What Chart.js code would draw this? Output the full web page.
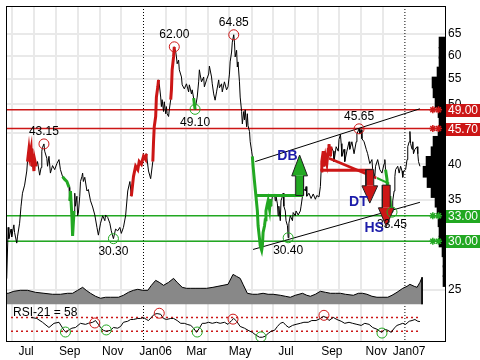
<!DOCTYPE html>
<html><head><meta charset="utf-8">
<script src="https://cdn.jsdelivr.net/npm/chart.js@4"></script>
<style>html,body{margin:0;padding:0;background:#fff}canvas{display:block}</style>
</head><body>
<canvas id="c" width="480" height="360"></canvas>
<script>
// ---------- DATA (x = days since 1 Jul 2005) ----------
const priceSeries = [
[-7,26.1],[-5,31.6],[-4,30.3],[-1,31.4],[0,30.5],[3,31.9],[4,31.0],[7,29.8],[8,30.5],[11,32.1],
[13,34.2],[15,35.9],[18,37.0],[21,39.0],[22,40.4],[24,42.3],[25,41.2],[27,42.4],[28,39.7],[29,41.6],
[31,39.0],[32,40.7],[34,39.7],[36,40.4],[39,38.4],[41,39.5],[42,42.0],[43,42.6],[45,43.15],[46,42.0],
[49,40.9],[50,39.7],[52,41.2],[54,38.7],[57,39.8],[60,39.2],[63,40.1],[66,40.7],[68,39.2],[71,38.2],
[74,37.8],[77,37.5],[80,36.7],[81,34.9],[82,36.2],[84,33.0],[85,30.6],[87,33.6],[88,35.9],[89,34.2],
[91,35.5],[92,33.0],[93,33.3],[95,35.5],[96,37.5],[98,38.2],[99,38.7],[100,37.5],[102,38.1],[105,36.2],
[107,36.4],[110,34.9],[113,34.1],[116,33.1],[119,31.6],[121,30.7],[124,32.1],[127,33.0],[130,32.4],[131,33.1],
[134,32.8],[137,32.1],[139,31.2],[142,30.3],[145,31.4],[148,31.2],[151,31.6],[153,30.9],[156,31.6],[159,33.0],
[162,36.2],[165,37.5],[167,35.5],[170,38.2],[173,39.7],[176,39.2],[178,40.4],[181,40.0],[184,41.2],[187,40.7],
[188,41.6],[191,39.0],[194,37.9],[197,40.4],[198,43.5],[199,46.0],[201,47.8],[202,51.4],[204,53.4],[205,54.8],
[206,54.0],[208,51.4],[209,49.6],[210,50.9],[212,48.7],[213,50.5],[215,48.3],[216,49.6],[217,48.3],[219,47.8],
[220,49.0],[222,50.9],[223,52.8],[224,56.9],[226,59.7],[227,62.0],[229,60.8],[230,59.7],[231,58.2],[233,59.0],
[234,56.9],[237,55.4],[238,53.8],[241,53.0],[244,54.0],[247,52.4],[248,53.8],[251,52.0],[252,52.8],[254,51.2],
[256,49.1],[259,51.4],[261,54.4],[262,56.9],[263,56.0],[265,54.4],[268,55.4],[269,53.4],[272,54.8],[275,56.0],
[276,57.7],[279,55.4],[280,54.0],[282,52.0],[284,50.8],[286,52.4],[289,54.8],[290,53.2],[293,54.0],[294,52.4],
[297,54.4],[300,52.8],[302,53.4],[304,56.0],[305,58.6],[307,60.8],[308,63.1],[310,64.85],[311,63.1],[312,59.7],
[314,61.2],[315,57.5],[316,58.6],[318,54.4],[319,51.4],[321,48.7],[322,46.5],[324,48.7],[325,47.2],[326,49.0],
[328,46.0],[329,48.3],[330,46.2],[332,45.2],[333,43.5],[335,42.0],[336,41.2],[337,39.7],[339,37.5],[341,35.5],
[343,33.6],[344,31.8],[346,30.3],[347,29.5],[349,29.0],[350,29.5],[351,31.0],[353,31.8],[354,32.5],[355,33.6],
[357,34.5],[358,34.9],[360,33.8],[361,35.1],[362,34.2],[364,35.5],[367,35.8],[368,34.9],[369,35.5],[371,34.5],
[372,33.0],[373,34.2],[375,32.4],[376,34.9],[378,35.5],[379,35.9],[380,34.2],[382,33.6],[383,32.4],[385,31.8],
[386,30.4],[387,32.1],[389,33.0],[392,32.4],[393,33.4],[396,33.0],[397,33.6],[400,33.1],[403,33.6],[404,34.2],
[406,35.5],[407,36.6],[410,36.2],[411,36.8],[412,35.5],[415,35.9],[418,35.2],[421,35.8],[424,35.1],[426,35.6],
[429,35.4],[431,36.8],[432,39.0],[433,40.4],[435,42.0],[436,39.7],[438,41.2],[440,40.1],[442,42.3],[443,43.1],
[445,41.2],[446,42.7],[449,42.0],[450,40.4],[453,42.7],[456,42.0],[457,43.9],[459,44.7],[460,43.2],[461,41.2],
[464,42.3],[465,40.4],[468,42.0],[471,43.5],[472,42.3],[475,43.5],[478,41.6],[481,43.5],[482,44.8],[485,45.65],
[486,44.8],[488,45.5],[489,44.0],[492,43.5],[495,42.3],[497,41.6],[500,40.1],[503,40.7],[504,39.2],[507,38.2],
[508,39.7],[511,40.7],[514,39.2],[517,38.7],[520,40.1],[521,40.7],[522,39.2],[524,37.8],[525,36.2],[527,34.9],
[528,35.5],[529,34.2],[531,33.45],[532,34.9],[534,36.2],[535,38.2],[536,39.2],[539,39.7],[541,38.7],[543,39.7],
[545,39.0],[546,38.1],[547,39.0],[550,39.2],[552,40.7],[553,42.7],[555,43.5],[556,45.2],[557,43.2],[559,42.3],
[560,43.5],[561,41.6],[563,42.3],[566,42.7],[567,41.6],[568,40.4],[570,39.7]
];
// highlighted stretches of the price line: [fromDay, toDay, 'up'|'down']
const highlightRanges = [[22,34,'up'],[71,80,'down'],[81,87,'down'],[167,188,'up'],[197,205,'up'],
  [222,227,'up'],[254,256,'down'],[336,362,'down'],[432,446,'up'],[522,531,'down']];
// pivots: [day, price, 'top'|'bottom']
const pivots = [[45,43.15,'top'],[142,30.30,'bottom'],[227,62.00,'top'],[256,49.10,'bottom'],
  [310,64.85,'top'],[386,30.40,'bottom'],[485,45.65,'top'],[531,33.45,'bottom']];
// support / resistance levels
const levels = [49.00, 45.70, 33.00, 30.00];
const levelKinds = ['up','up','down','down'];
const levelMarkDays = [588, 596];
// trend channel
const channelUpper = [[340,40.4],[570,49.2]];
const channelLower = [[337,29.1],[570,34.7]];
// chart patterns
const dbNeck = [[341,35.6],[407,35.6]];
const dtNeck = [[431,39.1],[504,39.1]];
const dtSlant = [[443,40.9],[509,38.0]];
const hsNeck = [[510,38.0],[527,37.2]];
// arrows: [day, tailPrice, headBasePrice, tipPrice, 'buy'|'sell']
const arrows = [[402,35.6,38.3,41.4,'buy'],[500,39.2,36.9,34.6,'sell'],[523,37.0,34.0,31.7,'sell']];
const patternLabels = [['DB',385,41.2],['DT',484,34.7],['HS',506,31.5]];
// volume
const volumeSeries = [[-8,11],[-5,11],[3,13],[12,14],[22,14],[33,12],[45,11],[57,10],[68,10],[78,11],[85,11],
  [92,14],[99,17],[104,14],[110,11],[117,8],[124,6],[131,7],[138,7],[149,7],[156,9],[163,12],[170,14],[176,15],
  [183,14],[190,14],[195,19],[201,24],[206,22],[212,19],[219,22],[226,26],[231,22],[238,17],[244,16],[250,16],
  [256,16],[263,16],[272,16],[281,17],[288,18],[295,19],[302,20],[309,30],[314,28],[319,26],[323,20],[329,11],
  [336,10],[343,10],[351,11],[358,10],[365,10],[375,9],[382,8],[389,7],[396,9],[406,11],[412,9],[417,8],[424,10],
  [431,13],[438,12],[445,11],[452,11],[459,11],[466,10],[477,9],[484,11],[490,11],[496,10],[503,8],[510,7],
  [517,7],[525,7],[531,9],[538,12],[546,16],[552,18],[556,20],[562,18],[566,17],[570,22],[573,27],[573,0]];
// volume by price: [price, volume]
const volumeByPrice = [[64.3,6],[61.9,6],[59.7,6],[57.5,8],[55.4,13],[53.4,12],[51.4,10],[49.6,7],[47.8,6],
  [46.0,7],[44.4,12],[42.7,14],[41.2,19],[39.7,22],[38.2,18],[36.8,14],[35.5,10],[34.2,8],[33.0,7],[31.8,6],
  [30.6,6],[29.5,3],[28.4,2],[27.4,2],[26.4,2]];
// RSI(21)
const rsiSeries = [[27,70],[35,67],[43,56],[52,41],[59,53],[66,56],[73,33],[76,27],[79,33],[84,39],[89,41],
  [96,53],[103,50],[107,53],[113,56],[117,61],[121,50],[124,41],[128,33],[132,30],[138,33],[142,41],[148,39],
  [152,44],[156,56],[162,59],[166,64],[170,64],[176,67],[180,67],[184,70],[188,64],[191,61],[195,70],[199,79],
  [203,81],[208,79],[212,67],[216,64],[222,67],[226,67],[231,61],[236,53],[241,53],[245,50],[250,47],[254,39],
  [258,27],[262,39],[266,53],[270,53],[275,56],[280,53],[286,56],[291,53],[297,56],[302,50],[307,61],[310,67],
  [314,59],[319,44],[325,39],[330,33],[336,27],[341,19],[346,13],[350,13],[354,16],[358,24],[362,30],[367,33],
  [371,44],[375,53],[379,56],[383,47],[387,41],[392,47],[397,50],[403,53],[408,56],[414,56],[419,61],[425,61],
  [431,67],[435,73],[439,70],[443,61],[449,70],[454,64],[460,59],[465,53],[471,56],[476,53],[482,50],[488,47],
  [493,53],[499,50],[504,41],[510,36],[514,30],[517,27],[521,36],[525,33],[530,27],[534,39],[538,47],[542,50],
  [546,53],[550,50],[555,59],[559,61],[563,64],[567,59],[570,58]];
const rsiTops = [[116,54],[206,82],[309,65],[436,76]];
const rsiBottoms = [[75,28],[132,34],[259,28],[348,14],[517,25]];
const rsiLevels = [70, 30];
const rsiLevelSpan = [-1, 570];
// axes
const priceTicks = [65,60,55,50,45,40,35,30,25];
const monthStarts = [0,31,62,92,123,153,184,215,243,274,304,335,365,396,427,457,488,518,549];
const yearStarts = [184, 549];
const monthLabelDays = [20,81,141,201,258,319,383,447,509,555];
const monthLabels = ['Jul','Sep','Nov','Jan06','Mar','May','Jul','Sep','Nov','Jan07'];

// ---------- STYLE / RANGES ----------
const X_MIN = -8, X_MAX = 605;
const P_MIN = 20.68, P_MAX = 72.2;
const RSI_MIN = 2.2, RSI_MAX = 965.1;
const VOL_MIN = -37, VOL_MAX = 300;
const HIST_MAX = 440;
const RED = '#cc1616', GREEN = '#22a822', BLUE = '#1c1caa', GRID = '#e9e9e9';
const kindColor = k => (k === 'up' || k === 'sell') ? RED : GREEN;
const SHAFT = 5.5, HEAD = 11;
const FONT = '"Liberation Sans", Arial, sans-serif';

Chart.defaults.font.family = FONT;
Chart.defaults.font.size = 12;
Chart.defaults.color = '#000';

const xy = arr => arr.map(([x, y]) => ({x, y}));
const line = (data, o) => Object.assign({type:'line', data, borderColor:'#000', borderWidth:1,
  pointRadius:0, fill:false, tension:0, xAxisID:'x', yAxisID:'y'}, o);

const datasets = [];
yearStarts.forEach(d => datasets.push(line([{x:d,y:P_MAX},{x:d,y:P_MIN}], {borderDash:[1,2], order:95})));
levels.forEach((v, i) => datasets.push(line([{x:X_MIN,y:v},{x:X_MAX,y:v}], {borderColor:kindColor(levelKinds[i]), borderWidth:1.5, order:85})));
datasets.push(line(xy(volumeSeries), {yAxisID:'yVol', fill:'origin', backgroundColor:'#888888', order:75}));
datasets.push({type:'bar', indexAxis:'y', xAxisID:'xHist', yAxisID:'y',
  data: volumeByPrice.map(([p, w]) => ({x:w, y:p})), backgroundColor:'#000', barThickness:11, order:70});
datasets.push(line(xy(channelUpper), {order:35}));
datasets.push(line(xy(channelLower), {order:35}));
datasets.push(line(xy(priceSeries), {order:30}));
highlightRanges.forEach(([a, b, k]) => datasets.push(line(xy(priceSeries.filter(p => p[0] >= a && p[0] <= b)),
  {borderColor:kindColor(k), borderWidth:3, order:25})));
datasets.push(line(xy(dbNeck), {borderColor:GREEN, borderWidth:3, order:20}));
datasets.push(line(xy(dtNeck), {borderColor:RED, borderWidth:3, order:20}));
datasets.push(line(xy(dtSlant), {borderColor:RED, borderWidth:2.5, order:20}));
datasets.push(line(xy(hsNeck), {borderColor:GREEN, borderWidth:2, order:20}));
levels.forEach((v, i) => datasets.push(line(levelMarkDays.map(d => ({x:d, y:v})), {showLine:false, pointRadius:3.5,
  pointStyle:'star', pointBorderColor:kindColor(levelKinds[i]), pointBorderWidth:1.5, order:15})));
arrows.forEach(([d, tail, base, tip, k]) => {
  const c = kindColor(k);
  datasets.push(line([{x:d-SHAFT,y:base},{x:d+SHAFT,y:base}], {borderWidth:0, fill:{value:tail}, backgroundColor:c, order:12}));
  datasets.push(line([{x:d-HEAD,y:base},{x:d,y:tip},{x:d+HEAD,y:base}], {borderWidth:0, fill:{value:base}, backgroundColor:c, order:11}));
  datasets.push(line([{x:d-SHAFT,y:tail},{x:d-SHAFT,y:base},{x:d-HEAD,y:base},{x:d,y:tip},{x:d+HEAD,y:base},
    {x:d+SHAFT,y:base},{x:d+SHAFT,y:tail},{x:d-SHAFT,y:tail}], {borderColor:'#202020', borderWidth:1, order:10}));
});
const circles = (pts, color, axis) => line(pts, {yAxisID:axis, showLine:false, pointRadius:5, pointStyle:'circle',
  pointBorderColor:color, pointBackgroundColor:'rgba(0,0,0,0)', pointBorderWidth:1, order:5});
datasets.push(circles(pivots.filter(p => p[2]==='top').map(([x,y]) => ({x,y})), RED, 'y'));
datasets.push(circles(pivots.filter(p => p[2]==='bottom').map(([x,y]) => ({x,y})), GREEN, 'y'));
rsiLevels.forEach(v => datasets.push(line([{x:rsiLevelSpan[0],y:v},{x:rsiLevelSpan[1],y:v}], {yAxisID:'yRsi', borderColor:RED, borderDash:[2,3], borderWidth:1.5, order:45})));
datasets.push(line(xy(rsiSeries), {yAxisID:'yRsi', order:40}));
datasets.push(circles(xy(rsiTops), RED, 'yRsi'));
datasets.push(circles(xy(rsiBottoms), GREEN, 'yRsi'));

const noPad = s => { s.paddingLeft = 0; s.paddingRight = 0; s.paddingTop = 0; s.paddingBottom = 0; };

const annotations = {
  id: 'annotations',
  afterDatasetsDraw(chart) {
    const {ctx, chartArea: ca, scales} = chart;
    const xs = scales.x, ys = scales.y, rs = scales.yRsi;
    ctx.save();
    ctx.strokeStyle = '#000'; ctx.lineWidth = 1;
    ctx.strokeRect(ca.left + 0.5, ca.top + 0.5, ca.width, ca.height);
    ctx.font = '12px ' + FONT; ctx.fillStyle = '#000';
    ctx.textAlign = 'center'; ctx.textBaseline = 'middle';
    pivots.forEach(([d, p, t]) => {
      const x = xs.getPixelForValue(d), y = ys.getPixelForValue(p);
      ctx.fillText(p.toFixed(2), x, t === 'top' ? y - 12 : y + 13);
    });
    ctx.font = 'bold 14px ' + FONT; ctx.fillStyle = BLUE;
    patternLabels.forEach(([t, d, p]) => ctx.fillText(t, xs.getPixelForValue(d), ys.getPixelForValue(p)));
    ctx.font = '12px ' + FONT; ctx.fillStyle = '#000'; ctx.textAlign = 'left';
    ctx.fillText('RSI-21 = ' + rsiSeries[rsiSeries.length - 1][1], ca.left + 7, rs.getPixelForValue(84));
    levels.forEach((v, i) => {
      const y = Math.round(ys.getPixelForValue(v));
      ctx.fillStyle = kindColor(levelKinds[i]);
      ctx.fillRect(ca.right + 1, y - 6, 40, 13);
      ctx.fillStyle = '#fff';
      ctx.fillText(v.toFixed(2), ca.right + 3, y + 0.5);
    });
    ctx.restore();
  }
};

new Chart(document.getElementById('c'), {
  type: 'line',
  data: { datasets },
  options: {
    responsive: false, animation: false, events: [],
    layout: { padding: { left: 5, top: 4, right: 0, bottom: 0 } },
    plugins: { legend: { display: false }, tooltip: { enabled: false } },
    scales: {
      x: { type:'linear', position:'bottom', min:X_MIN, max:X_MAX, offset:false, weight:1,
        grid:{display:false, drawTicks:false, tickLength:0}, border:{display:false},
        ticks:{autoSkip:false, maxRotation:0, minRotation:0, padding:3, color:'#000', callback:(v, i) => monthLabels[i]},
        afterBuildTicks: s => { s.ticks = monthLabelDays.map(v => ({value:v})); },
        afterFit: s => { s.height = 19; noPad(s); } },
      xGrid: { type:'linear', axis:'x', position:'bottom', min:X_MIN, max:X_MAX, offset:false, weight:0,
        ticks:{display:false}, border:{display:false},
        grid:{drawTicks:false, tickLength:0, lineWidth:2, color: c => (c.tick && yearStarts.includes(c.tick.value)) ? 'rgba(0,0,0,0)' : GRID},
        afterBuildTicks: s => { s.ticks = monthStarts.map(v => ({value:v})); },
        afterFit: s => { s.height = 0; noPad(s); } },
      xHist: { type:'linear', axis:'x', display:false, reverse:true, min:0, max:HIST_MAX },
      y: { type:'logarithmic', axis:'y', position:'right', min:P_MIN, max:P_MAX, offset:false, weight:1,
        grid:{color:GRID, lineWidth:2, drawTicks:false, offset:false}, border:{display:false},
        ticks:{autoSkip:false, padding:3, color:'#000', callback: v => String(v)},
        afterBuildTicks: s => { s.ticks = priceTicks.map(v => ({value:v})); },
        afterFit: s => { s.width = 35; noPad(s); } },
      yRsi: { type:'linear', axis:'y', position:'right', min:RSI_MIN, max:RSI_MAX, weight:0,
        grid:{display:false, drawTicks:false}, border:{display:false},
        ticks:{autoSkip:false, padding:3, color:'#000', callback: v => String(v)},
        afterBuildTicks: s => { s.ticks = rsiLevels.map(v => ({value:v})); },
        afterFit: s => { s.width = 0; noPad(s); } },
      yVol: { type:'linear', axis:'y', display:false, min:VOL_MIN, max:VOL_MAX }
    }
  },
  plugins: [annotations]
});
</script>
</body></html>
